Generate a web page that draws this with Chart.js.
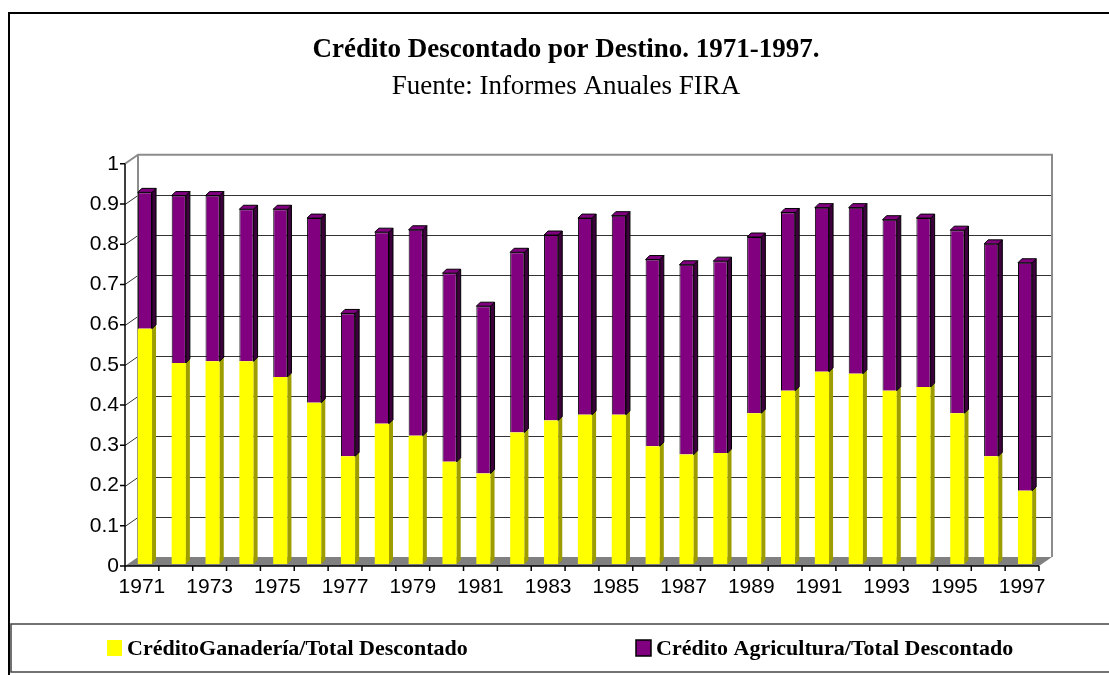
<!DOCTYPE html>
<html>
<head>
<meta charset="utf-8">
<script src="https://cdn.jsdelivr.net/npm/chart.js@4.4.1/dist/chart.umd.min.js"></script>
<style>
  html, body { margin: 0; padding: 0; background: #fff; overflow: hidden; }
</style>
</head>
<body>
<canvas id="chart" width="1109" height="675"></canvas>
<script>
const years = ['1971','1972','1973','1974','1975','1976','1977','1978','1979','1980','1981','1982','1983','1984',
               '1985','1986','1987','1988','1989','1990','1991','1992','1993','1994','1995','1996','1997'];

// share of total discounted credit
const ganaderia   = [0.585,0.500,0.504,0.504,0.465,0.401,0.268,0.349,0.319,0.254,0.225,0.327,0.357,0.371,
                     0.371,0.293,0.272,0.276,0.375,0.431,0.478,0.473,0.431,0.440,0.375,0.268,0.182];
const agricultura = [0.339,0.416,0.412,0.378,0.417,0.459,0.355,0.476,0.512,0.469,0.416,0.448,0.461,0.489,
                     0.495,0.464,0.472,0.477,0.438,0.443,0.408,0.413,0.425,0.420,0.455,0.528,0.567];

const yTickLabels = ['0','0.1','0.2','0.3','0.4','0.5','0.6','0.7','0.8','0.9','1'];

const serif = '"Liberation Serif", "Times New Roman", serif';
const sans  = '"Liberation Sans", Arial, sans-serif';

const D    = 4;                 // bar depth
const WALL = { dx: 10, dy: -7 }; // back wall, relative to bar plane
const AXIS = { dx: -3, dy: 2 };  // front axes, relative to bar plane

const threeD = {
  id: 'threeD',
  beforeDraw(chart) {
    const { ctx, chartArea: a, scales: { y } } = chart;
    ctx.save();
    ctx.fillStyle = '#fff';
    ctx.fillRect(0, 0, chart.width, chart.height);

    // outer frame
    ctx.strokeStyle = '#000';
    ctx.lineWidth = 2;
    ctx.strokeRect(9, 13, chart.width + 20, chart.height + 20);

    const L = a.left + WALL.dx, R = a.right + WALL.dx;
    const T = a.top + WALL.dy,  B = a.bottom + WALL.dy;
    const fl = a.left + AXIS.dx, fb = a.bottom + AXIS.dy;

    // gridlines on side wall + back wall
    ctx.strokeStyle = '#333';
    ctx.lineWidth = 1;
    y.ticks.forEach(t => {
      if (t.value <= 0 || t.value >= 1) return;
      const py = Math.round(y.getPixelForValue(t.value)) + 0.5;
      ctx.beginPath();
      ctx.moveTo(fl, py + AXIS.dy);
      ctx.lineTo(L, py + WALL.dy);
      ctx.lineTo(R, py + WALL.dy);
      ctx.stroke();
    });

    // wall edges
    ctx.strokeStyle = '#8c8c8c';
    ctx.lineWidth = 2;
    ctx.beginPath();
    ctx.moveTo(fl, a.top + AXIS.dy);
    ctx.lineTo(L, T);
    ctx.lineTo(R, T);
    ctx.lineTo(R, B);
    ctx.moveTo(L, T);
    ctx.lineTo(L, B);
    ctx.stroke();

    // floor
    ctx.fillStyle = '#808080';
    ctx.beginPath();
    ctx.moveTo(fl, fb);
    ctx.lineTo(L, B);
    ctx.lineTo(R, B);
    ctx.lineTo(a.right + AXIS.dx, fb);
    ctx.closePath();
    ctx.fill();
    ctx.restore();
  },
  afterDatasetsDraw(chart) {
    const { ctx } = chart;
    const n = chart.data.datasets.length;
    chart.data.datasets.forEach((ds, di) => {
      const meta = chart.getDatasetMeta(di);
      meta.data.forEach(bar => {
        const { x, y, base, width } = bar.getProps(['x', 'y', 'base', 'width'], true);
        const l = x - width / 2, r = x + width / 2;
        ctx.save();
        ctx.lineWidth = ds.borderWidth || 1;
        ctx.strokeStyle = ds.borderWidth ? ds.borderColor : ds.sideColor;
        ctx.fillStyle = ds.sideColor;
        ctx.beginPath();
        ctx.moveTo(r, y);
        ctx.lineTo(r + D, y - D);
        ctx.lineTo(r + D, base - D);
        ctx.lineTo(r, base);
        ctx.closePath();
        ctx.fill();
        if (ds.borderWidth) ctx.stroke();
        if (di === n - 1) {
          ctx.fillStyle = ds.topColor;
          ctx.beginPath();
          ctx.moveTo(l, y);
          ctx.lineTo(l + D, y - D);
          ctx.lineTo(r + D, y - D);
          ctx.lineTo(r, y);
          ctx.closePath();
          ctx.fill();
          ctx.stroke();
        }
        ctx.restore();
      });
    });
  },
  afterDraw(chart) {
    const { ctx, chartArea: a, scales: { x, y } } = chart;
    const fl = a.left + AXIS.dx, fb = a.bottom + AXIS.dy;
    ctx.save();
    ctx.strokeStyle = '#000';
    ctx.lineWidth = 1.5;

    // front y axis
    ctx.beginPath();
    ctx.moveTo(fl, a.top + AXIS.dy);
    ctx.lineTo(fl, fb);
    y.ticks.forEach(t => {
      const py = y.getPixelForValue(t.value) + AXIS.dy;
      ctx.moveTo(fl - 5, py);
      ctx.lineTo(fl, py);
    });
    // front x axis
    ctx.moveTo(fl, fb);
    ctx.lineTo(a.right + AXIS.dx, fb);
    const step = x.getPixelForValue(1) - x.getPixelForValue(0);
    for (let i = 0; i <= years.length; i++) {
      const px = x.getPixelForValue(0) - step / 2 + i * step + AXIS.dx;
      ctx.moveTo(px, fb);
      ctx.lineTo(px, fb + 5);
    }
    ctx.stroke();

    // legend
    const box = { l: 11, t: chart.height - 51, r: chart.width + 10, b: chart.height - 3 };
    ctx.strokeStyle = '#444';
    ctx.lineWidth = 1.5;
    ctx.strokeRect(box.l, box.t, box.r - box.l, box.b - box.t);
    const cy = (box.t + box.b) / 2;
    const starts = [107, 636];
    ctx.font = 'bold 22px ' + serif;
    ctx.textBaseline = 'middle';
    ctx.textAlign = 'left';
    chart.data.datasets.forEach((ds, i) => {
      ctx.fillStyle = ds.backgroundColor;
      ctx.fillRect(starts[i], cy - 8, 15, 16);
      if (ds.borderWidth) {
        ctx.lineWidth = 1.5;
        ctx.strokeStyle = '#000';
        ctx.strokeRect(starts[i], cy - 8, 15, 16);
      }
      ctx.fillStyle = '#000';
      ctx.fillText(ds.label, starts[i] + 20, cy + 1);
    });
    ctx.restore();
  }
};

new Chart(document.getElementById('chart'), {
  type: 'bar',
  data: {
    labels: years,
    datasets: [
      {
        label: 'CréditoGanadería/Total Descontado',
        data: ganaderia,
        backgroundColor: '#ffff00',
        sideColor: '#9d9d00',
        topColor: '#ffff66',
        borderWidth: 0
      },
      {
        label: 'Crédito Agricultura/Total Descontado',
        data: agricultura,
        backgroundColor: '#800080',
        sideColor: '#3d003d',
        topColor: '#800080',
        borderColor: '#000',
        borderWidth: 1
      }
    ]
  },
  options: {
    responsive: false,
    animation: false,
    devicePixelRatio: 1,
    layout: { padding: { left: 90, right: 67, top: 14, bottom: 70 } },
    datasets: { bar: { barPercentage: 0.42, categoryPercentage: 1 } },
    plugins: {
      legend: { display: false },
      tooltip: { enabled: false },
      title: {
        display: true,
        text: 'Crédito Descontado por Destino. 1971-1997.',
        color: '#000',
        font: { family: serif, size: 27, weight: 'bold' },
        padding: { top: 20, bottom: 4 }
      },
      subtitle: {
        display: true,
        text: 'Fuente: Informes Anuales FIRA',
        color: '#000',
        font: { family: serif, size: 27, weight: 'normal' },
        padding: { top: 0, bottom: 59 }
      }
    },
    scales: {
      x: {
        stacked: true,
        grid: { display: false, drawTicks: false },
        border: { display: false },
        ticks: {
          autoSkip: false,
          maxRotation: 0,
          padding: 11,
          labelOffset: AXIS.dx,
          color: '#000',
          font: { family: sans, size: 21 },
          callback: (v, i) => i % 2 === 0 ? years[i] : ''
        },
        afterFit: s => { s.height = 41; }
      },
      y: {
        stacked: true,
        min: 0,
        max: 1,
        grid: { display: false, drawTicks: false },
        border: { display: false },
        ticks: {
          stepSize: 0.1,
          padding: 9,
          labelOffset: AXIS.dy,
          color: '#000',
          font: { family: sans, size: 21 },
          callback: (v, i) => yTickLabels[i]
        },
        afterFit: s => { s.width = 38; }
      }
    }
  },
  plugins: [threeD]
});
</script>
</body>
</html>
